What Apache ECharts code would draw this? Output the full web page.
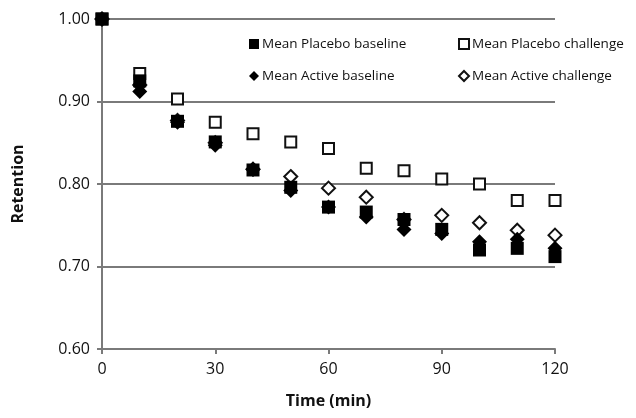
<!DOCTYPE html>
<html>
<head>
<meta charset="utf-8">
<script src="https://cdn.jsdelivr.net/npm/echarts@6/dist/echarts.min.js"></script>
<style>
  html, body { margin: 0; padding: 0; background: #fff; }
  #main { width: 636px; height: 418px; }
</style>
</head>
<body>
<div id="main"></div>
<script>
// time points (min)
var times = [0, 10, 20, 30, 40, 50, 60, 70, 80, 90, 100, 110, 120];
var placeboBaseline = [1.000, 0.925, 0.876, 0.851, 0.817, 0.796, 0.772, 0.766, 0.757, 0.745, 0.720, 0.722, 0.712];
var placeboChallenge = [1.000, 0.934, 0.903, 0.875, 0.861, 0.851, 0.843, 0.819, 0.816, 0.806, 0.800, 0.780, 0.780];
var activeBaseline = [1.000, 0.912, 0.875, 0.847, 0.818, 0.792, 0.772, 0.760, 0.745, 0.740, 0.730, 0.733, 0.722];
var activeChallenge = [1.000, 0.920, 0.877, 0.850, 0.818, 0.809, 0.795, 0.784, 0.757, 0.762, 0.753, 0.744, 0.738];

function pairs(vals) {
  return times.map(function (t, i) { return [t, vals[i]]; });
}

var chart = echarts.init(document.getElementById('main'));
var font = 'Open Sans';
var axisGray = '#7a7a7a';

function legendAt(name, left, top) {
  return {
    data: [name],
    left: left,
    top: top,
    padding: 0,
    itemWidth: 10,
    itemHeight: 10,
    itemGap: 3,
    textStyle: { fontFamily: font, fontSize: 13.5, color: '#111', padding: [0, 0, 0, -2] }
  };
}

var option = {
  backgroundColor: '#fff',
  animation: false,
  grid: { left: 102, right: 81, top: 19, bottom: 69 },
  legend: [
    legendAt('Mean Placebo baseline', 249, 37),
    legendAt('Mean Placebo challenge', 458, 37),
    legendAt('Mean Active baseline', 249, 69),
    legendAt('Mean Active challenge', 458, 69)
  ],
  xAxis: {
    type: 'value',
    min: 0,
    max: 120,
    interval: 30,
    name: 'Time (min)',
    nameLocation: 'middle',
    nameGap: 44,
    nameTextStyle: { fontFamily: font, fontSize: 16, fontWeight: 'bold', color: '#111' },
    axisLine: { show: true, lineStyle: { color: axisGray, width: 2 } },
    axisTick: { show: true, length: 5, lineStyle: { color: axisGray, width: 2 } },
    axisLabel: { fontFamily: font, fontSize: 16, color: '#111', margin: 12 },
    splitLine: { show: false }
  },
  yAxis: {
    type: 'value',
    min: 0.6,
    max: 1.0,
    interval: 0.1,
    name: 'Retention',
    nameLocation: 'middle',
    nameGap: 76,
    nameTextStyle: { fontFamily: font, fontSize: 16, fontWeight: 'bold', color: '#111' },
    axisLine: { show: true, lineStyle: { color: axisGray, width: 2 } },
    axisTick: { show: true, length: 5, lineStyle: { color: axisGray, width: 2 } },
    axisLabel: {
      fontFamily: font, fontSize: 16, color: '#111', margin: 12,
      formatter: function (v) { return v.toFixed(2); }
    },
    splitLine: { show: true, lineStyle: { color: axisGray, width: 2 } }
  },
  series: [
    {
      name: 'Mean Placebo challenge',
      type: 'scatter',
      symbol: 'rect',
      symbolSize: 11,
      itemStyle: { color: '#fff', borderColor: '#111', borderWidth: 2, opacity: 1 },
      data: pairs(placeboChallenge),
      z: 2
    },
    {
      name: 'Mean Active challenge',
      type: 'scatter',
      symbol: 'diamond',
      symbolSize: 13,
      itemStyle: { color: '#fff', borderColor: '#111', borderWidth: 2, opacity: 1 },
      data: pairs(activeChallenge),
      z: 2
    },
    {
      name: 'Mean Placebo baseline',
      type: 'scatter',
      symbol: 'rect',
      symbolSize: 13,
      itemStyle: { color: '#000', opacity: 1 },
      data: pairs(placeboBaseline),
      z: 3
    },
    {
      name: 'Mean Active baseline',
      type: 'scatter',
      symbol: 'diamond',
      symbolSize: 15,
      itemStyle: { color: '#000', opacity: 1 },
      data: pairs(activeBaseline),
      z: 3
    }
  ]
};

chart.setOption(option);
</script>
</body>
</html>
